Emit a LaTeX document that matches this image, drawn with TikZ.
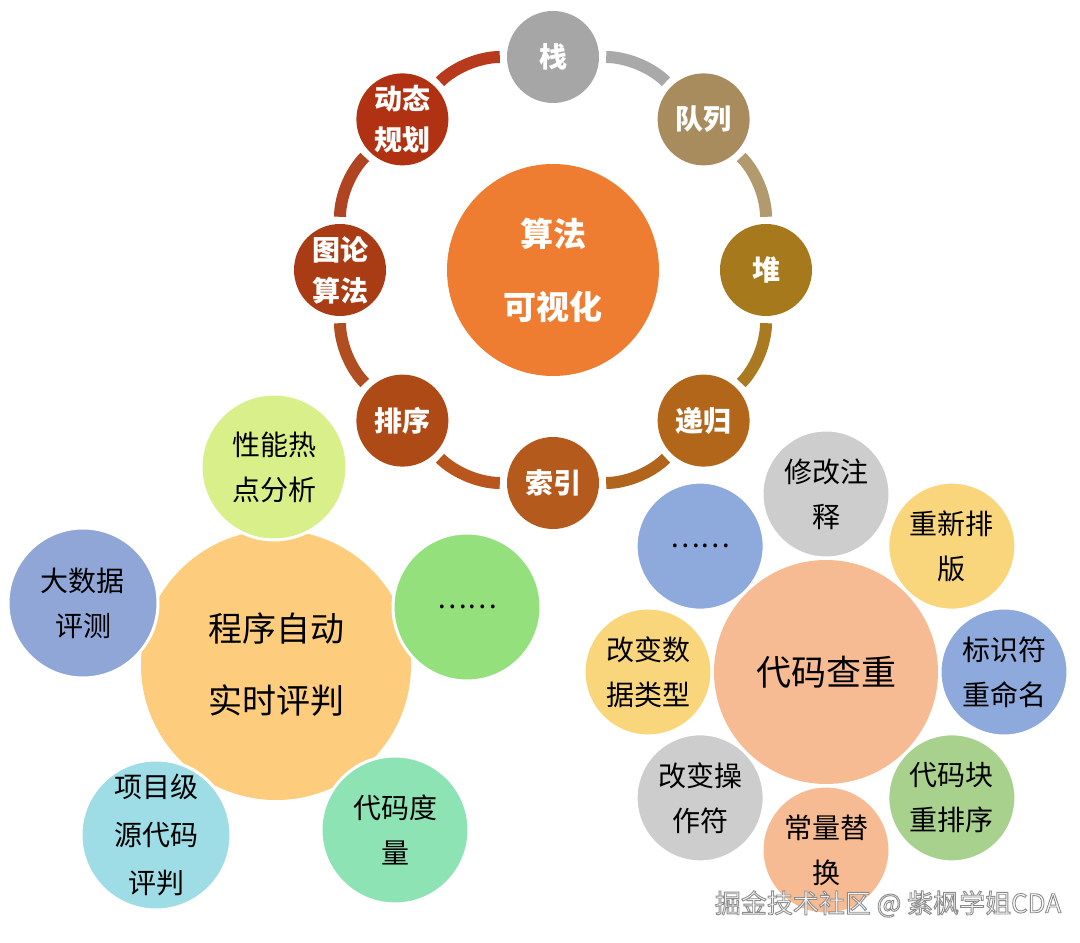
\documentclass[tikz,border=0pt]{standalone}
\usepackage{fontspec}
\newfontfamily\cjk{Noto Sans CJK SC}
\usetikzlibrary{calc,positioning}

%% ring colours
\definecolor{algoOrange}{HTML}{EE7D31}
\definecolor{rStack}{HTML}{A6A6A6}
\definecolor{rQueue}{HTML}{A88C5E}
\definecolor{rHeap}{HTML}{A67A1C}
\definecolor{rRecur}{HTML}{B2661A}
\definecolor{rIndex}{HTML}{B45A1C}
\definecolor{rSort}{HTML}{AE4A16}
\definecolor{rGraph}{HTML}{A93C14}
\definecolor{rDyn}{HTML}{B03212}
\definecolor{sStQu}{HTML}{A9A9A9}
\definecolor{sQuHe}{HTML}{B09A6E}
\definecolor{sHeRe}{HTML}{AA7A22}
\definecolor{sReIn}{HTML}{B0641C}
\definecolor{sInSo}{HTML}{B8561E}
\definecolor{sSoGr}{HTML}{B04E22}
\definecolor{sGrDy}{HTML}{B04422}
\definecolor{sDySt}{HTML}{B83A1C}
%% judge cluster colours
\definecolor{judgeYellow}{HTML}{FDCC7C}
\definecolor{jHot}{HTML}{D9EF8A}
\definecolor{jBig}{HTML}{8FA6D6}
\definecolor{jMore}{HTML}{93E07D}
\definecolor{jProj}{HTML}{9EDDE6}
\definecolor{jMetric}{HTML}{8EE3B5}
%% plagiarism cluster colours
\definecolor{dupSalmon}{HTML}{F7BB93}
\definecolor{dGray}{HTML}{CDCDCD}
\definecolor{dYellow}{HTML}{F9D67C}
\definecolor{dBlue}{HTML}{8EA9DB}
\definecolor{dGreen}{HTML}{A9D18E}

\begin{document}
\begin{tikzpicture}[
  x=1pt, y=1pt,
  every node/.style={font=\cjk},
  hubtop/.style ={circle, inner sep=0pt, minimum size=212pt, fill=algoOrange,
                  text=white, align=center,
                  font=\cjk\bfseries\fontsize{33}{73}\selectfont},
  ringsat/.style={circle, inner sep=0pt, minimum size=92pt, text=white,
                  align=center, font=\cjk\bfseries\fontsize{28}{41}\selectfont},
  seg/.style    ={line width=12pt, shorten <=7pt, shorten >=7pt},
  hub/.style    ={circle, inner sep=0pt, align=center,
                  font=\cjk\fontsize{34}{72}\selectfont},
  sat/.style    ={circle, inner sep=0pt, align=center, draw=white,
                  line width=3pt, font=\cjk\fontsize{28}{45}\selectfont},
  wmarktext/.style={font=\cjk\fontsize{26}{30}\selectfont}
]
\useasboundingbox[fill=white] (0,0) rectangle (1080,943);

%% ---- Algorithm visualisation ring --------------------------------
\node[hubtop] (algo) at (553,673) {算法\\可视化};
\foreach \ang/\nm/\txt/\col in {90/stack/栈/rStack, 45/queue/队列/rQueue,
    0/heap/堆/rHeap, -45/recur/递归/rRecur, -90/index/索引/rIndex,
    -135/sort/排序/rSort, 180/graph/{图论\\算法}/rGraph,
    135/dynprog/{动态\\规划}/rDyn}
  \node[ringsat, fill=\col] (\nm) at ($(algo)+(\ang:213)$) {\txt};
\foreach \a/\b/\col in {stack/queue/sStQu, queue/heap/sQuHe,
    heap/recur/sHeRe, recur/index/sReIn, index/sort/sInSo,
    sort/graph/sSoGr, graph/dynprog/sGrDy, dynprog/stack/sDySt}
  \draw[seg, draw=\col] (\a) to[bend left=22.5, looseness=0.9] (\b);

%% ---- Automatic judging cluster -----------------------------------
\node[hub, minimum size=270pt, fill=judgeYellow] (judge) at (276,278)
     {程序自动\\实时评判};
\node[sat, minimum size=146pt, fill=jHot]    (hot)    at (274,476) {性能热\\点分析};
\node[sat, minimum size=150pt, fill=jBig]    (bigdata) at (83,340) {大数据\\评测};
\node[sat, minimum size=148pt, fill=jMore]   (jmore)  at (467,336) {……};
\node[sat, minimum size=150pt, fill=jProj,
      font=\cjk\fontsize{28}{48}\selectfont] (project) at (156,108)
     {项目级\\源代码\\评判};
\node[sat, minimum size=148pt, fill=jMetric] (metric) at (395,113) {代码度\\量};

%% ---- Code plagiarism cluster -------------------------------------
\node[hub, minimum size=224pt, fill=dupSalmon,
      font=\cjk\fontsize{35}{40}\selectfont] (dup) at (826,271) {代码查重};
\foreach \ang/\nm/\txt/\col in {90/comment/{修改注\\释}/dGray,
    45/layout/{重新排\\版}/dYellow, 0/rename/{标识符\\重命名}/dBlue,
    -45/reorder/{代码块\\重排序}/dGreen, -90/const/{常量替\\换}/dupSalmon,
    -135/oper/{改变操\\作符}/dGray, 180/dtype/{改变数\\据类型}/dYellow,
    135/dmore/{……}/dBlue}
  \node[sat, minimum size=128pt, fill=\col] (\nm) at ($(dup)+(\ang:178)$) {\txt};

%% ---- Watermark ---------------------------------------------------
\node[wmarktext] (wmark) at (888,39)
     {\color{white}\special{pdf:literal direct 2 Tr 0.55 G 0.9 w}%
      掘金技术社区 @ 紫枫学姐CDA\special{pdf:literal direct 0 Tr}};

\end{tikzpicture}
\end{document}
